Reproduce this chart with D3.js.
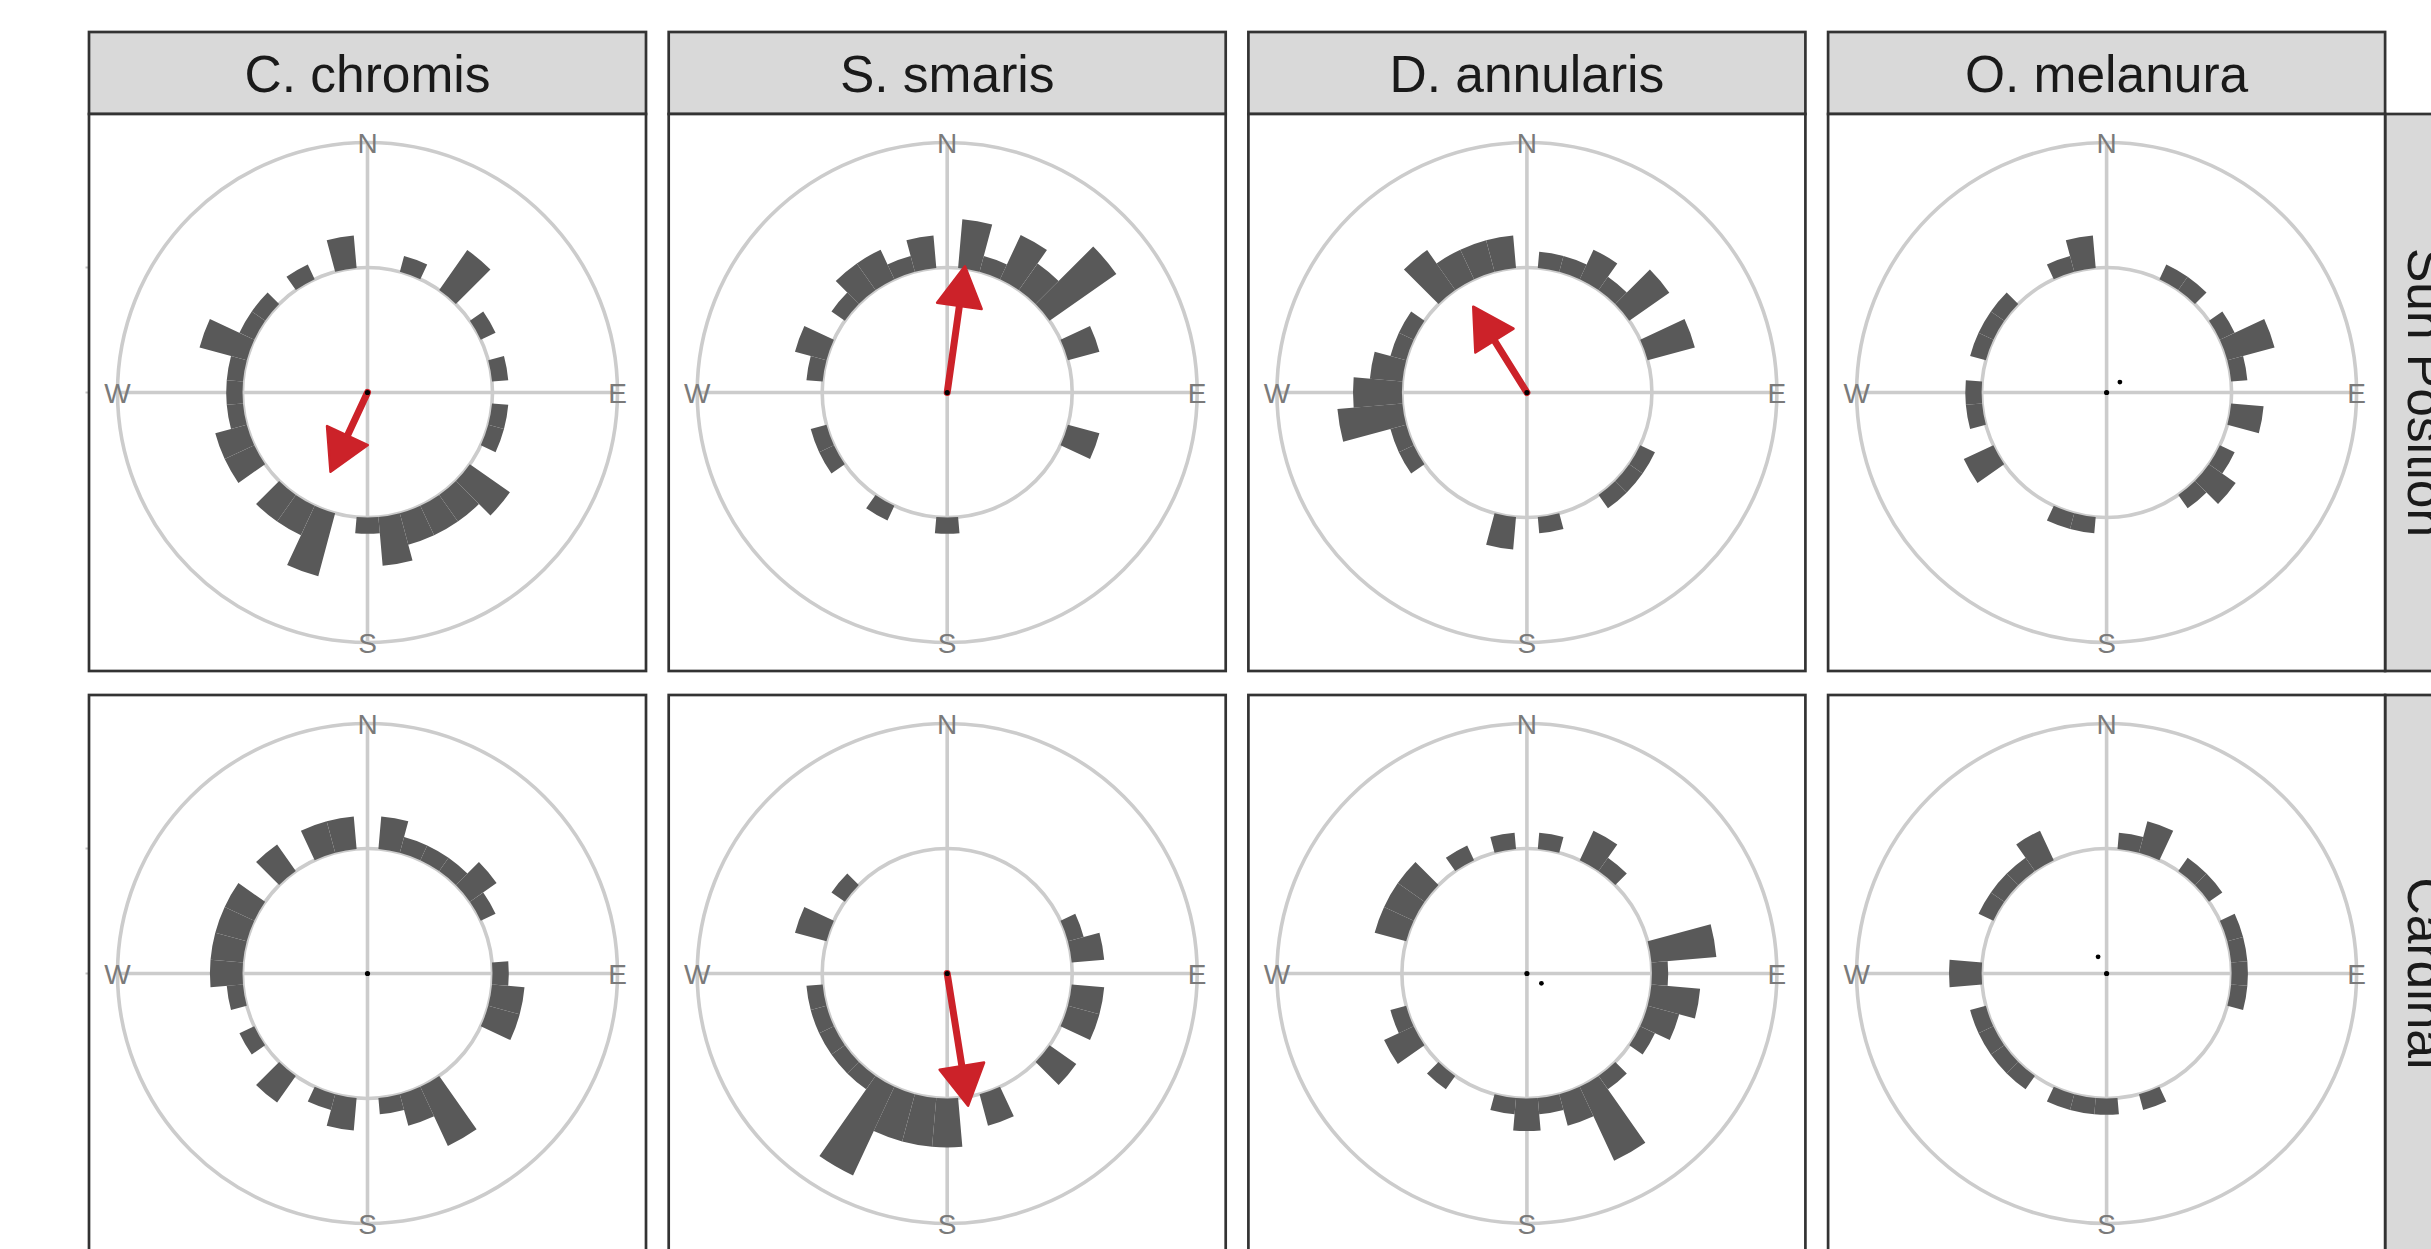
<!DOCTYPE html>
<html>
<head>
<meta charset="utf-8">
<script src="https://cdn.jsdelivr.net/npm/d3@7"></script>
<style>
  html, body { margin: 0; padding: 0; background: #ffffff; overflow: hidden; }
  svg { display: block; }
</style>
</head>
<body>
<svg id="chart" width="2431" height="1249"></svg>
<script>
// ---- data -------------------------------------------------------------
const species = ["C. chromis", "S. smaris", "D. annularis", "O. melanura"];
const conditions = ["Sun Position", "Cardinal"];
const compassLabels = ["N", "E", "S", "W"];
const compassAngles = [0, 90, 180, 270];

// centre of each 10-degree heading bin
const binCentres = [0, 10, 20, 30, 40, 50, 60, 70, 80, 90, 100, 110,
                    120, 130, 140, 150, 160, 170, 180, 190, 200, 210, 220, 230,
                    240, 250, 260, 270, 280, 290, 300, 310, 320, 330, 340, 350];

// heading counts per bin, Sun Position trials
const sunChromis   = [0,0,1,0,3,0,1,0,1,0,1,1,0,3,2,2,2,3,1,0,4,2,2,0,2,2,1,1,1,3,1,1,0,1,0,2];
const sunSmaris    = [0,3,1,3,2,5,0,2,0,0,0,2,0,0,0,0,0,0,1,0,0,1,0,0,1,1,0,0,1,2,0,1,2,2,1,2];
const sunAnnularis = [0,1,1,2,1,3,0,3,0,0,0,0,1,1,1,0,0,1,0,2,0,0,0,0,1,1,4,3,2,1,1,0,3,2,2,2];
const sunMelanura  = [0,0,0,1,1,0,1,3,1,0,2,0,1,2,1,0,0,0,0,1,1,0,0,0,2,0,1,1,0,1,1,1,0,0,1,2];

// heading counts per bin, Cardinal trials
const cardChromis   = [0,2,1,1,1,2,1,0,0,1,2,2,0,0,0,4,2,1,0,2,1,0,2,0,1,0,1,2,2,2,2,0,2,0,2,2];
const cardSmaris    = [0,0,0,0,0,0,0,1,2,0,2,2,0,2,0,0,2,0,3,3,3,6,1,1,1,1,1,0,0,2,0,1,0,0,0,0];
const cardAnnularis = [0,1,0,2,1,0,0,0,4,1,3,2,1,0,1,5,2,1,2,1,0,0,1,0,2,1,0,0,0,2,2,2,0,1,0,1];
const cardMelanura  = [0,1,2,0,1,1,0,1,1,1,1,0,0,0,0,0,1,0,1,1,1,0,1,1,1,1,0,2,0,0,1,1,1,2,0,0];

// mean resultant vector (direction in degrees, length) and significance
const sunMeanAngle      = [205, 8, 328, 52];
const sunMeanLength     = [0.70, 1.02, 0.81, 0.135];
const sunSignificant    = [true, true, true, false];
const cardMeanAngle     = [0, 171, 124, 333];
const cardMeanLength    = [0, 1.07, 0.14, 0.15];
const cardSignificant   = [false, true, false, false];

// grid rings (in resultant-length units)
const ringLevels = [1, 2];

// ---- layout ------------------------------------------------------------
const colLeft = 89, colPitch = 579.7, panelW = 557, panelH = 557;
const stripTop = 32, stripH = 82;
const rowTop = [114, 695];
const R_OUT = 250;

const svg = d3.select("#chart");

const angleScale = d3.scaleLinear().domain([0, 360]).range([0, 2 * Math.PI]);
const ringScale = d3.scaleLinear().domain([0, 2]).range([0, R_OUT]);
const countScale = d3.scaleLinear().domain([0, 1]).range([ringScale(1), ringScale(1) + 16.3]);

const polar = (deg, r) => [Math.sin(angleScale(deg)) * r, -Math.cos(angleScale(deg)) * r];

const barArc = d3.arc()
  .innerRadius(ringScale(1))
  .outerRadius(d => countScale(d.count))
  .startAngle(d => angleScale(d.angle - 5))
  .endAngle(d => angleScale(d.angle + 5));

const countsByRow = [
  [sunChromis, sunSmaris, sunAnnularis, sunMelanura],
  [cardChromis, cardSmaris, cardAnnularis, cardMelanura]
];
const meanAngleByRow = [sunMeanAngle, cardMeanAngle];
const meanLengthByRow = [sunMeanLength, cardMeanLength];
const significantByRow = [sunSignificant, cardSignificant];

const FONT = "'Liberation Sans', Arial, Helvetica, sans-serif";
const RED = "#cc2229";
const GRID = "#cccccc";

// ---- column strips -----------------------------------------------------
species.forEach((sp, c) => {
  const x0 = colLeft + c * colPitch;
  svg.append("rect")
    .attr("x", x0).attr("y", stripTop)
    .attr("width", panelW).attr("height", stripH)
    .attr("fill", "#d9d9d9").attr("stroke", "#333333").attr("stroke-width", 2.7);
  svg.append("text")
    .attr("x", x0 + panelW / 2).attr("y", stripTop + stripH / 2 + 18.5)
    .attr("text-anchor", "middle")
    .attr("font-family", FONT).attr("font-size", 51.5)
    .attr("fill", "#1a1a1a")
    .text(sp);
});

// ---- row strips (right side) -------------------------------------------
conditions.forEach((cond, r) => {
  const x0 = colLeft + 3 * colPitch + panelW;
  svg.append("rect")
    .attr("x", x0).attr("y", rowTop[r])
    .attr("width", stripH).attr("height", panelH)
    .attr("fill", "#d9d9d9").attr("stroke", "#333333").attr("stroke-width", 2.7);
  svg.append("g")
    .attr("transform", `translate(${x0 + stripH / 2},${rowTop[r] + panelH / 2}) rotate(90)`)
    .append("text")
    .attr("x", 0).attr("y", 18.5)
    .attr("text-anchor", "middle")
    .attr("font-family", FONT).attr("font-size", 51.5)
    .attr("fill", "#1a1a1a")
    .text(cond);
});

// ---- panels ------------------------------------------------------------
conditions.forEach((cond, r) => {
  species.forEach((sp, c) => {
    const x0 = colLeft + c * colPitch;
    const y0 = rowTop[r];
    const cx = x0 + panelW / 2, cy = y0 + panelH / 2;

    svg.append("rect")
      .attr("x", x0).attr("y", y0).attr("width", panelW).attr("height", panelH)
      .attr("fill", "#ffffff");

    const g = svg.append("g").attr("transform", `translate(${cx},${cy})`);

    // grid rings and compass cross
    g.selectAll("circle.ring").data(ringLevels).join("circle")
      .attr("class", "ring")
      .attr("r", d => ringScale(d))
      .attr("fill", "none").attr("stroke", GRID).attr("stroke-width", 3.6);
    [[0, 180], [90, 270]].forEach(([a, b]) => {
      const p = polar(a, ringScale(2)), q = polar(b, ringScale(2));
      g.append("line")
        .attr("x1", p[0]).attr("y1", p[1]).attr("x2", q[0]).attr("y2", q[1])
        .attr("stroke", GRID).attr("stroke-width", 3.6);
    });

    // rose bars
    const bins = binCentres.map((a, i) => ({ angle: a, count: countsByRow[r][c][i] }))
      .filter(d => d.count > 0);
    g.selectAll("path.bar").data(bins).join("path")
      .attr("class", "bar")
      .attr("d", barArc)
      .attr("fill", "#595959");

    // mean vector
    const mAng = meanAngleByRow[r][c], mLen = meanLengthByRow[r][c];
    if (significantByRow[r][c]) {
      const tip = polar(mAng, ringScale(mLen));
      const dir = polar(mAng, 1);
      const perp = [-dir[1], dir[0]];
      const headLen = 40, headHalf = 22.5;
      const base = [tip[0] - dir[0] * headLen, tip[1] - dir[1] * headLen];
      g.append("line")
        .attr("x1", 0).attr("y1", 0)
        .attr("x2", base[0] + dir[0] * 4).attr("y2", base[1] + dir[1] * 4)
        .attr("stroke", RED).attr("stroke-width", 7).attr("stroke-linecap", "round");
      g.append("path")
        .attr("d", d3.line()([
          tip,
          [base[0] + perp[0] * headHalf, base[1] + perp[1] * headHalf],
          [base[0] - perp[0] * headHalf, base[1] - perp[1] * headHalf]
        ]) + "Z")
        .attr("fill", RED).attr("stroke", RED).attr("stroke-width", 2.5)
        .attr("stroke-linejoin", "round");
    } else if (mLen > 0) {
      const p = polar(mAng, ringScale(mLen));
      g.append("circle").attr("cx", p[0]).attr("cy", p[1]).attr("r", 2.4).attr("fill", "#000000");
    }
    g.append("circle").attr("cx", 0).attr("cy", 0).attr("r", 2.6).attr("fill", "#000000");

    // compass labels
    g.selectAll("text.compass").data(compassLabels).join("text")
      .attr("class", "compass")
      .attr("x", (d, i) => polar(compassAngles[i], ringScale(2))[0])
      .attr("y", (d, i) => polar(compassAngles[i], ringScale(2))[1] + 10)
      .attr("text-anchor", "middle")
      .attr("font-family", FONT).attr("font-size", 28)
      .attr("fill", "#7a7a7a")
      .text(d => d);

    // radial axis ticks on the left-most column
    if (c === 0) {
      [0, 1].forEach(v => {
        svg.append("line")
          .attr("x1", x0 - 3.5).attr("x2", x0 - 0.5)
          .attr("y1", cy - ringScale(v)).attr("y2", cy - ringScale(v))
          .attr("stroke", "#c4c4c4").attr("stroke-width", 2);
      });
    }

    svg.append("rect")
      .attr("x", x0).attr("y", y0).attr("width", panelW).attr("height", panelH)
      .attr("fill", "none").attr("stroke", "#333333").attr("stroke-width", 2.7);
  });
});
</script>
</body>
</html>
